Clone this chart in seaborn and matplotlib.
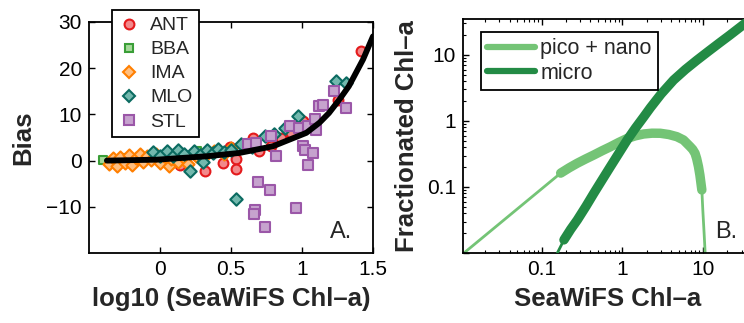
import numpy as np
import pandas as pd
import matplotlib
matplotlib.use("Agg")
import matplotlib.pyplot as plt
import seaborn as sns
from matplotlib.lines import Line2D

# ---------------- data: panel A ----------------
ant_x = [0.14, 0.316, 0.444, 0.49, 0.538, 0.538, 0.62, 0.655, 0.70, 0.78, 0.854, 0.92, 1.006, 1.25, 1.415]
ant_y = [-0.9, -2.3, -0.5, 2.9, 0.3, -1.9, 3.5, 4.9, 2.0, 3.1, 4.9, 6.0, 8.5, 13.2, 23.8]

bba_x = [-0.40, -0.33, -0.25, -0.15, -0.05, 0.05, 0.15, 0.26]
bba_y = [0.2, 0.0, 0.5, 0.3, 0.6, 0.4, 1.0, 2.0]

ima_x = [-0.36, -0.33, -0.30, -0.28, -0.25, -0.22, -0.20, -0.17, -0.14, -0.12, -0.09, -0.06, -0.03,
         0.0, 0.03, 0.06, 0.08, 0.10, 0.13, 0.16, 0.20, 0.25, 0.30, 0.38, 0.45, 0.50]
ima_y = [-0.8, 0.5, -1.2, 0.8, -0.5, 1.2, -1.0, 0.6, 1.4, -0.3, 1.0, 0.2, 1.5,
         -0.6, 0.9, -1.2, 0.4, 1.3, -0.4, 0.7, -0.8, 1.0, 0.6, 2.0, 1.5, 2.7]

mlo_x = [-0.05, 0.0, 0.05, 0.09, 0.13, 0.17, 0.21, 0.24, 0.28, 0.30, 0.33, 0.37, 0.41, 0.45, 0.50,
         0.538, 0.573, 0.65, 0.737, 0.80, 0.877, 0.97, 1.24, 1.31]
mlo_y = [1.8, 0.9, 2.0, 1.1, 2.3, 1.5, -2.3, 2.0, 1.2, -0.4, 2.4, 1.6, 2.6, 1.9, 2.3,
         -8.4, 3.5, 3.0, 5.3, 5.8, 7.1, 9.6, 17.2, 16.8]

stl_x = [0.62, 0.674, 0.784, 0.819, 0.912, 0.982, 1.04, 1.10, 1.09, 1.006, 1.02, 1.076, 1.04,
         1.12, 1.146, 1.228, 1.31, 0.69, 0.772, 0.667, 0.66, 0.737, 0.96]
stl_y = [3.5, 3.8, 5.3, 1.1, 7.4, 7.1, 7.4, 6.7, 8.9, 3.1, 2.4, 1.66, -0.9,
         11.8, 12.1, 15.0, 11.4, -4.7, -6.4, -10.6, -11.5, -14.4, -10.2]

fit_x = [-0.374, -0.023, 0.33, 0.56, 0.795, 1.03, 1.123, 1.19, 1.263, 1.33, 1.38, 1.43, 1.50]
fit_y = [0.0, 0.2, 0.94, 1.66, 3.1, 6.0, 8.2, 10.3, 13.2, 16.1, 19.0, 21.9, 26.9]

stations = ["ANT", "BBA", "IMA", "MLO", "STL"]

# ---------------- data: panel B ----------------
pn_chl = [0.01089, 0.1718, 0.2188, 0.2761, 0.3508, 0.4426, 0.5623, 0.7112, 0.9016, 1.143, 1.445,
          1.832, 2.323, 2.944, 3.758, 4.732, 5.715, 6.918, 7.413, 7.943, 8.318, 8.750, 9.120,
          9.638, 9.908, 10.28, 10.59]
pn_val = [0.0100, 0.1622, 0.1950, 0.2291, 0.2661, 0.3055, 0.3548, 0.4074, 0.4732, 0.5433, 0.5957,
          0.6353, 0.6531, 0.6516, 0.6237, 0.5781, 0.5152, 0.4074, 0.3715, 0.3236, 0.2692, 0.2042,
          0.1514, 0.0902, 0.0447, 0.0200, 0.0100]
pn_obs = (0.17, 9.65)

micro_chl = [0.1563, 0.1888, 0.2291, 0.2761, 0.3548, 0.4426, 0.5623, 0.7112, 0.9016, 1.143, 1.445,
             1.832, 2.218, 3.020, 4.305, 6.026, 8.356, 11.61, 16.22, 21.38, 28.64, 39.81]
micro_val = [0.0100, 0.0158, 0.0229, 0.0316, 0.0513, 0.0804, 0.1288, 0.2042, 0.3236, 0.5129, 0.7762,
             1.148, 1.585, 2.570, 4.169, 6.026, 8.318, 11.35, 15.49, 19.95, 26.30, 35.89]
micro_obs_start = 0.188

# ---------------- styling ----------------
sns.set_theme(style="ticks")
plt.rcParams["font.family"] = ["Liberation Sans", "DejaVu Sans"]
plt.rcParams["axes.linewidth"] = 1.3
plt.rcParams["axes.edgecolor"] = "black"
plt.rcParams["xtick.color"] = "black"
plt.rcParams["ytick.color"] = "black"

styles = {
    "ANT": dict(marker="o", s=50, face="#f2898b", edge="#e41a1c"),
    "BBA": dict(marker="s", s=38, face="#a6d99a", edge="#3a9e37"),
    "IMA": dict(marker="D", s=38, face="#ffbf80", edge="#ff7f00"),
    "MLO": dict(marker="D", s=40, face="#72b8ad", edge="#0b6b61"),
    "STL": dict(marker="s", s=42, face="#c6a3ce", edge="#9b57a8"),
}
data = {"ANT": (ant_x, ant_y), "BBA": (bba_x, bba_y), "IMA": (ima_x, ima_y),
        "MLO": (mlo_x, mlo_y), "STL": (stl_x, stl_y)}

W, H = 744, 323
fig = plt.figure(figsize=(W / 100, H / 100), dpi=100)
ax1 = fig.add_axes([89 / W, 70 / H, 284 / W, 231 / H])
ax2 = fig.add_axes([463 / W, 70 / H, 289 / W, 234.5 / H])

# ---- panel A ----
for i, st in enumerate(stations):
    xs, ys = data[st]
    stl = styles[st]
    sns.scatterplot(x=xs, y=ys, ax=ax1, marker=stl["marker"], s=stl["s"],
                    color=stl["face"], edgecolor=stl["edge"], linewidth=1.5,
                    zorder=3 + i, legend=False)
sns.lineplot(x=fit_x, y=fit_y, ax=ax1, color="black", linewidth=4.2, sort=False,
             estimator=None, zorder=10, solid_capstyle="round")
ax1.set_xlim(-0.5, 1.5)
ax1.set_ylim(-20, 30)
ax1.set_xticks([0, 0.5, 1, 1.5])
ax1.set_xticklabels(["0", "0.5", "1", "1.5"])
ax1.set_yticks([-10, 0, 10, 20, 30])
ax1.set_yticklabels(["\u221210", "0", "10", "20", "30"])
ax1.set_xlabel("log10 (SeaWiFS Chl\u2013a)", fontsize=18.5, fontweight="bold", labelpad=6)
ax1.set_ylabel("Bias", fontsize=18.5, fontweight="bold", labelpad=8)
ax1.text(0.849, 0.065, "A.", transform=ax1.transAxes, fontsize=17)

handles = [Line2D([], [], linestyle="none", marker=styles[s]["marker"],
                  markersize=np.sqrt(styles[s]["s"]), markerfacecolor=styles[s]["face"],
                  markeredgecolor=styles[s]["edge"], markeredgewidth=1.5) for s in stations]
leg1 = ax1.legend(handles, stations, loc="upper left", bbox_to_anchor=(112 / W, 1 - 10 / H),
                  bbox_transform=fig.transFigure, borderaxespad=0, frameon=True, fancybox=False,
                  fontsize=14, handlelength=1.0, handletextpad=0.6, labelspacing=0.33,
                  borderpad=0.35, framealpha=1)
leg1.get_frame().set_edgecolor("black")
leg1.get_frame().set_linewidth(1.3)
leg1.set_zorder(20)

# ---- panel B ----
light = "#74c476"
dark = "#238b45"
pn = pd.DataFrame({"chl": pn_chl, "val": pn_val})
mi = pd.DataFrame({"chl": micro_chl, "val": micro_val})
pn_thick = pn[(pn.chl >= pn_obs[0]) & (pn.chl <= pn_obs[1])]
mi_thick = mi[mi.chl >= micro_obs_start]

sns.lineplot(data=pn, x="chl", y="val", ax=ax2, color=light, linewidth=2, sort=False,
             estimator=None, zorder=2)
sns.lineplot(data=pn_thick, x="chl", y="val", ax=ax2, color=light, linewidth=6.8, sort=False,
             estimator=None, zorder=2, solid_capstyle="round", solid_joinstyle="round")
sns.lineplot(data=mi, x="chl", y="val", ax=ax2, color=dark, linewidth=2, sort=False,
             estimator=None, zorder=3)
sns.lineplot(data=mi_thick, x="chl", y="val", ax=ax2, color=dark, linewidth=6.8, sort=False,
             estimator=None, zorder=3, solid_capstyle="round", solid_joinstyle="round")
ax2.set_xscale("log")
ax2.set_yscale("log")
ax2.set_xlim(0.0106, 40.3)
ax2.set_ylim(0.01, 35.7)
ax2.set_xticks([0.1, 1, 10])
ax2.set_xticklabels(["0.1", "1", "10"])
ax2.set_yticks([0.01, 0.1, 1, 10])
ax2.set_yticklabels(["", "0.1", "1", "10"])
ax2.set_xlabel("SeaWiFS Chl\u2013a", fontsize=18.5, fontweight="bold", labelpad=6)
ax2.set_ylabel("Fractionated Chl\u2013a", fontsize=18.5, fontweight="bold", labelpad=6)
ax2.text(0.872, 0.064, "B.", transform=ax2.transAxes, fontsize=17)

lh = [Line2D([], [], color=light, linewidth=4.5), Line2D([], [], color=dark, linewidth=4.5)]
leg2 = ax2.legend(lh, ["pico + nano", "micro"], loc="upper left",
                  bbox_to_anchor=(481 / W, 1 - 32 / H), bbox_transform=fig.transFigure,
                  borderaxespad=0, frameon=True, fancybox=False, fontsize=15.5,
                  handlelength=2.2, handletextpad=0.25, labelspacing=0.15, borderpad=0.3,
                  framealpha=1)
leg2.get_frame().set_edgecolor("black")
leg2.get_frame().set_linewidth(1.3)

for ax in (ax1, ax2):
    ax.tick_params(which="major", direction="in", top=True, right=True, length=4,
                   width=1, labelsize=15, pad=5)
    ax.tick_params(which="minor", direction="in", top=True, right=True, length=2.2, width=0.8)
    for sp in ax.spines.values():
        sp.set_visible(True)
        sp.set_linewidth(1.3)

fig.savefig("out.png", dpi=100)
